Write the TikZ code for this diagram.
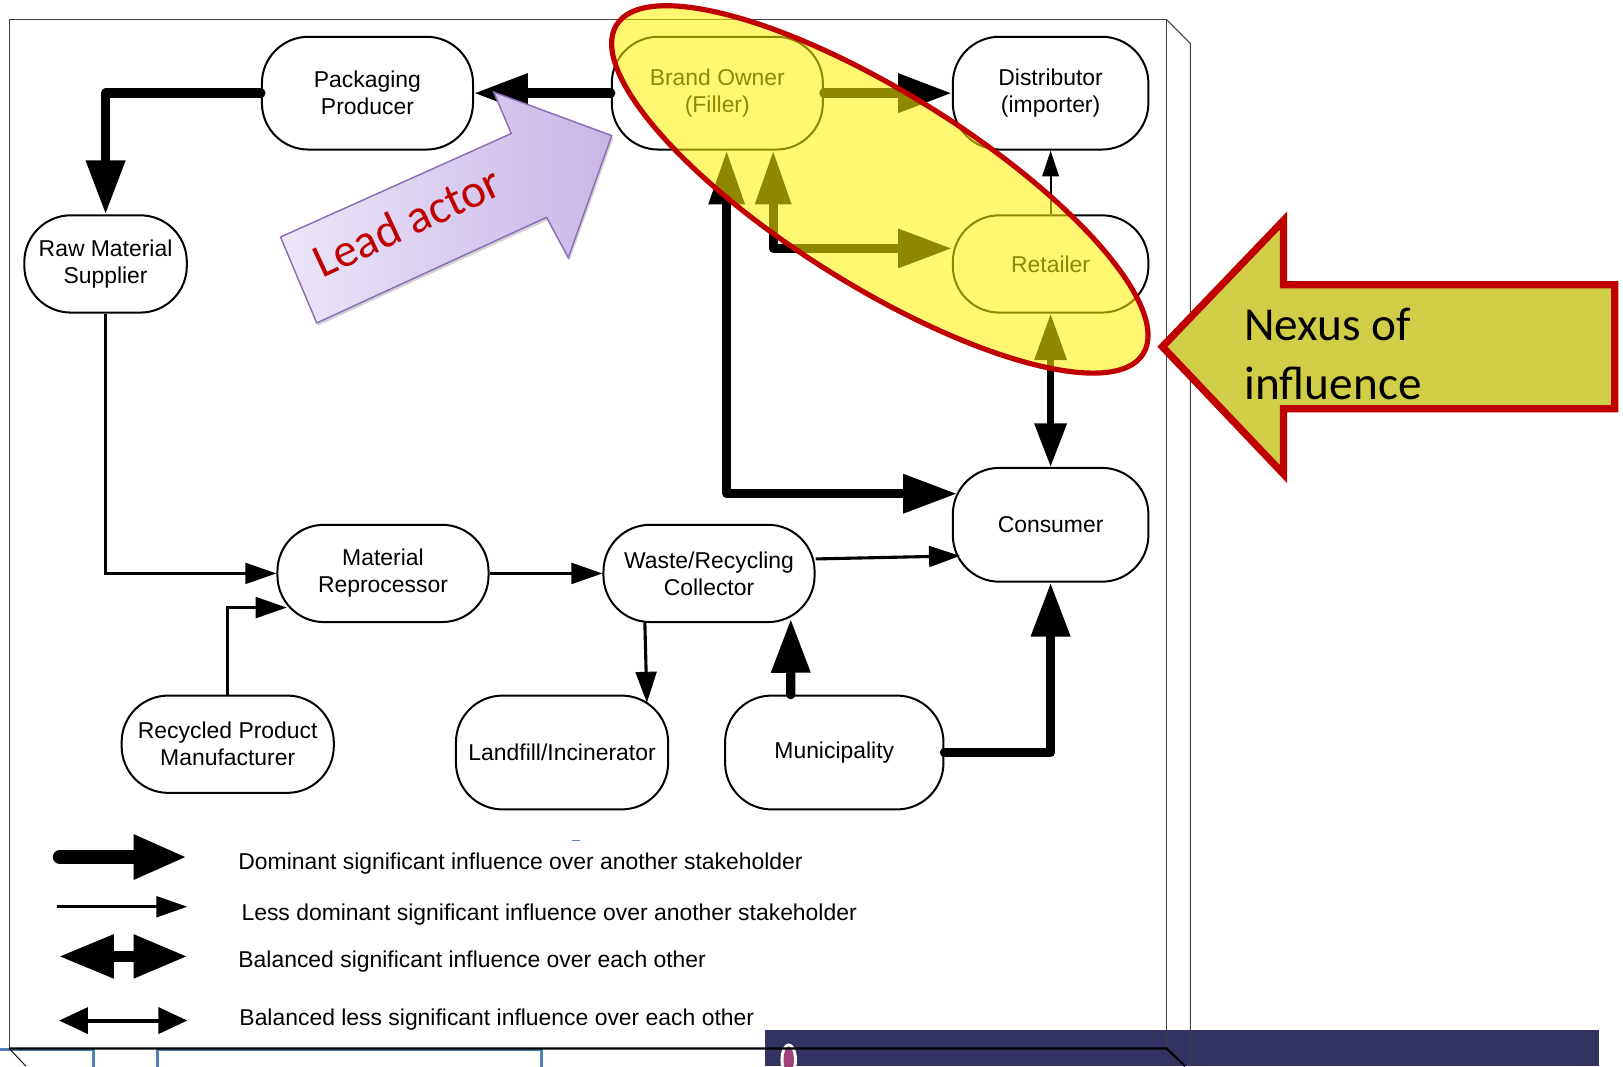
\documentclass[tikz,border=0pt]{standalone}
\usepackage{fontspec}
\setmainfont{Liberation Sans}
\newfontfamily\calibri{Carlito}
\usetikzlibrary{arrows.meta,shadows}
\definecolor{leadred}{RGB}{192,0,0}
\definecolor{nexusfill}{RGB}{208,206,70}
\definecolor{leadlight}{RGB}{236,230,248}
\definecolor{leaddark}{RGB}{200,182,230}
\definecolor{leadedge}{RGB}{140,110,182}
\definecolor{slidenavy}{RGB}{51,51,99}
\definecolor{slideblue}{RGB}{79,129,189}
\newcommand{\nfont}{\fontsize{12.6}{14.8}\selectfont}
\tikzset{
  stake/.style={draw, line width=1.1pt, rounded corners=0.9cm, align=center, inner sep=0pt, font=\nfont},
  dom/.style={line width=0.18cm, line cap=round, line join=round, -{Triangle[length=1.04cm,width=0.72cm]}},
  bal/.style={line width=0.17cm, line join=round, {Triangle[length=1.04cm,width=0.66cm]}-{Triangle[length=1.04cm,width=0.72cm]}},
  less/.style={line width=0.06cm, -{Triangle[length=0.6cm,width=0.4cm]}},
  thinarr/.style={line width=0.04cm, -{Triangle[length=0.5cm,width=0.32cm]}},
  medbal/.style={line width=0.13cm, {Triangle[length=0.84cm,width=0.6cm]}-{Triangle[length=0.9cm,width=0.6cm]}},
  keydom/.style={line width=0.28cm, line cap=round, -{Triangle[length=1.04cm,width=0.8cm]}},
  keybal/.style={line width=0.2cm, {Triangle[length=1.06cm,width=0.8cm]}-{Triangle[length=1.04cm,width=0.8cm]}},
  keyless/.style={line width=0.08cm, {Triangle[length=0.56cm,width=0.5cm]}-{Triangle[length=0.56cm,width=0.5cm]}},
  keytext/.style={anchor=west, inner sep=0pt, font=\nfont},
}

\begin{document}
\begin{tikzpicture}[x=0.02cm, y=-0.02cm]
\useasboundingbox (0,0) rectangle (1568,1030);
\fill[white] (0,0) rectangle (1568,1030);

% bits of the slide underneath
\fill[slidenavy] (739,995) rectangle (1545,1030);
\fill[white] (762,1024) ellipse (0.16cm and 0.32cm);
\fill[magenta!60!black] (762,1024) ellipse (0.1cm and 0.26cm);
\draw[slideblue, line width=0.06cm] (0,1014) -- (90,1014) -- (90,1032);
\draw[slideblue, line width=0.06cm] (152,1032) -- (152,1014) -- (523,1014) -- (523,1032);
\draw[slideblue, line width=0.5pt] (553,812) -- (560,812);

% frame
\draw[black!75, line width=0.5pt] (9,1013) -- (9,19) -- (1127,19) -- (1127,1013);
\draw[black!75, line width=0.5pt] (1127,19) -- (1150,42) -- (1150,1030);
\draw[line width=1.2pt] (9,1013) -- (1127,1013) -- (1145,1030);
\draw[line width=0.5pt] (9,1013) -- (25,1030);

\node[stake, minimum width=4.08cm, minimum height=2.18cm] (pack) at (355,90) {Packaging\\Producer};
\node[stake, minimum width=4.08cm, minimum height=2.18cm] (brand) at (693,90) {Brand Owner\\(Filler)};
\node[stake, minimum width=3.78cm, minimum height=2.18cm] (dist) at (1015,90) {Distributor\\(importer)};
\node[stake, minimum width=3.78cm, minimum height=1.88cm] (retail) at (1015,255) {Retailer};
\node[stake, minimum width=3.14cm, minimum height=1.88cm] (raw) at (102,255) {Raw Material\\Supplier};
\node[stake, minimum width=3.78cm, minimum height=2.2cm] (cons) at (1015,507) {Consumer};
\node[stake, minimum width=4.08cm, minimum height=1.88cm] (reproc) at (370,554) {Material\\Reprocessor};
\node[stake, minimum width=4.08cm, minimum height=1.88cm] (waste) at (685,554) {Waste/Recycling\\Collector};
\node[stake, minimum width=4.1cm, minimum height=1.88cm] (recyc) at (220,719) {Recycled Product\\Manufacturer};
\node[stake, minimum width=4.1cm, minimum height=2.2cm] (land) at (543,727) {Landfill/Incinerator};
\node[stake, minimum width=4.22cm, minimum height=2.2cm] (muni) at (806,727) {Municipality};

\draw[dom] (brand) to (pack);
\draw[dom] (pack.west) -| (raw);
\draw[less] (raw) |- (reproc);
\draw[less] (recyc) |- ([xshift=0.2cm,yshift=-0.66cm]reproc.west);
\draw[less] (reproc) to (waste);
\draw[less] ([yshift=0.28cm]waste.east) to ([xshift=0.16cm,yshift=-0.6cm]cons.west);
\draw[less] ([xshift=-1.24cm]waste.south) to ([xshift=1.64cm,yshift=-0.16cm]land.north);
\draw[dom] ([xshift=-0.84cm]muni.north) to ([xshift=1.58cm,yshift=0.08cm]waste.south);
\draw[dom] (muni) -| (cons);
\draw[bal] ([xshift=0.18cm]brand.south) |- ([xshift=0.1cm,yshift=0.6cm]cons.west);
\draw[bal] ([xshift=1.08cm]brand.south) |- ([yshift=0.3cm]retail.west);
\draw[dom] (brand) to (dist);
\draw[thinarr] (retail) to (dist);
\draw[medbal] (cons) to (retail);

% nexus ellipse
\draw[leadred, line width=0.1cm, fill=yellow, fill opacity=0.56, rotate around={-32:(850,183)}] (850,183) ellipse (6cm and 1.86cm);

% lead actor arrow
\draw[leadedge, line width=0.8pt, left color=leadlight, right color=leaddark,
  drop shadow={shadow xshift=0.03cm, shadow yshift=-0.05cm, opacity=0.35}]
  (271,229) -- (494,129) -- (477,89) -- (591,131) -- (549,249) -- (528,210) -- (306,312) -- cycle;
\node[rotate=25, text=leadred, font=\calibri\fontsize{26}{30}\selectfont] (lead) at (393,214) {Lead actor};

% nexus arrow
\draw[leadred, line width=0.14cm, fill=nexusfill,
  drop shadow={shadow xshift=0.05cm, shadow yshift=-0.06cm, opacity=0.4}]
  (1123,335) -- (1240,213) -- (1240,275) -- (1560,275) -- (1560,395) -- (1240,395) -- (1240,458) -- cycle;
\node[anchor=west, align=left, font=\calibri\fontsize{26}{32.4}\selectfont] (nexus) at (1196,342) {Nexus of\\influence};

% key
\coordinate (d1) at (58,828);
\coordinate (d2) at (181,828);
\draw[keydom] (d1) to (d2);
\node[keytext] (dtext) at (230,834) {Dominant significant influence over another stakeholder};
\coordinate (l1) at (55,876);
\coordinate (l2) at (181,876);
\draw[less] (l1) to (l2);
\node[keytext] (ltext) at (233,884) {Less dominant significant influence over another stakeholder};
\coordinate (b1) at (57,924);
\coordinate (b2) at (181,924);
\draw[keybal] (b1) to (b2);
\node[keytext] (btext) at (230,929) {Balanced significant influence over each other};
\coordinate (s1) at (57,986);
\coordinate (s2) at (181,986);
\draw[keyless] (s1) to (s2);
\node[keytext] (stext) at (231,985) {Balanced less significant influence over each other};
\end{tikzpicture}
\end{document}
